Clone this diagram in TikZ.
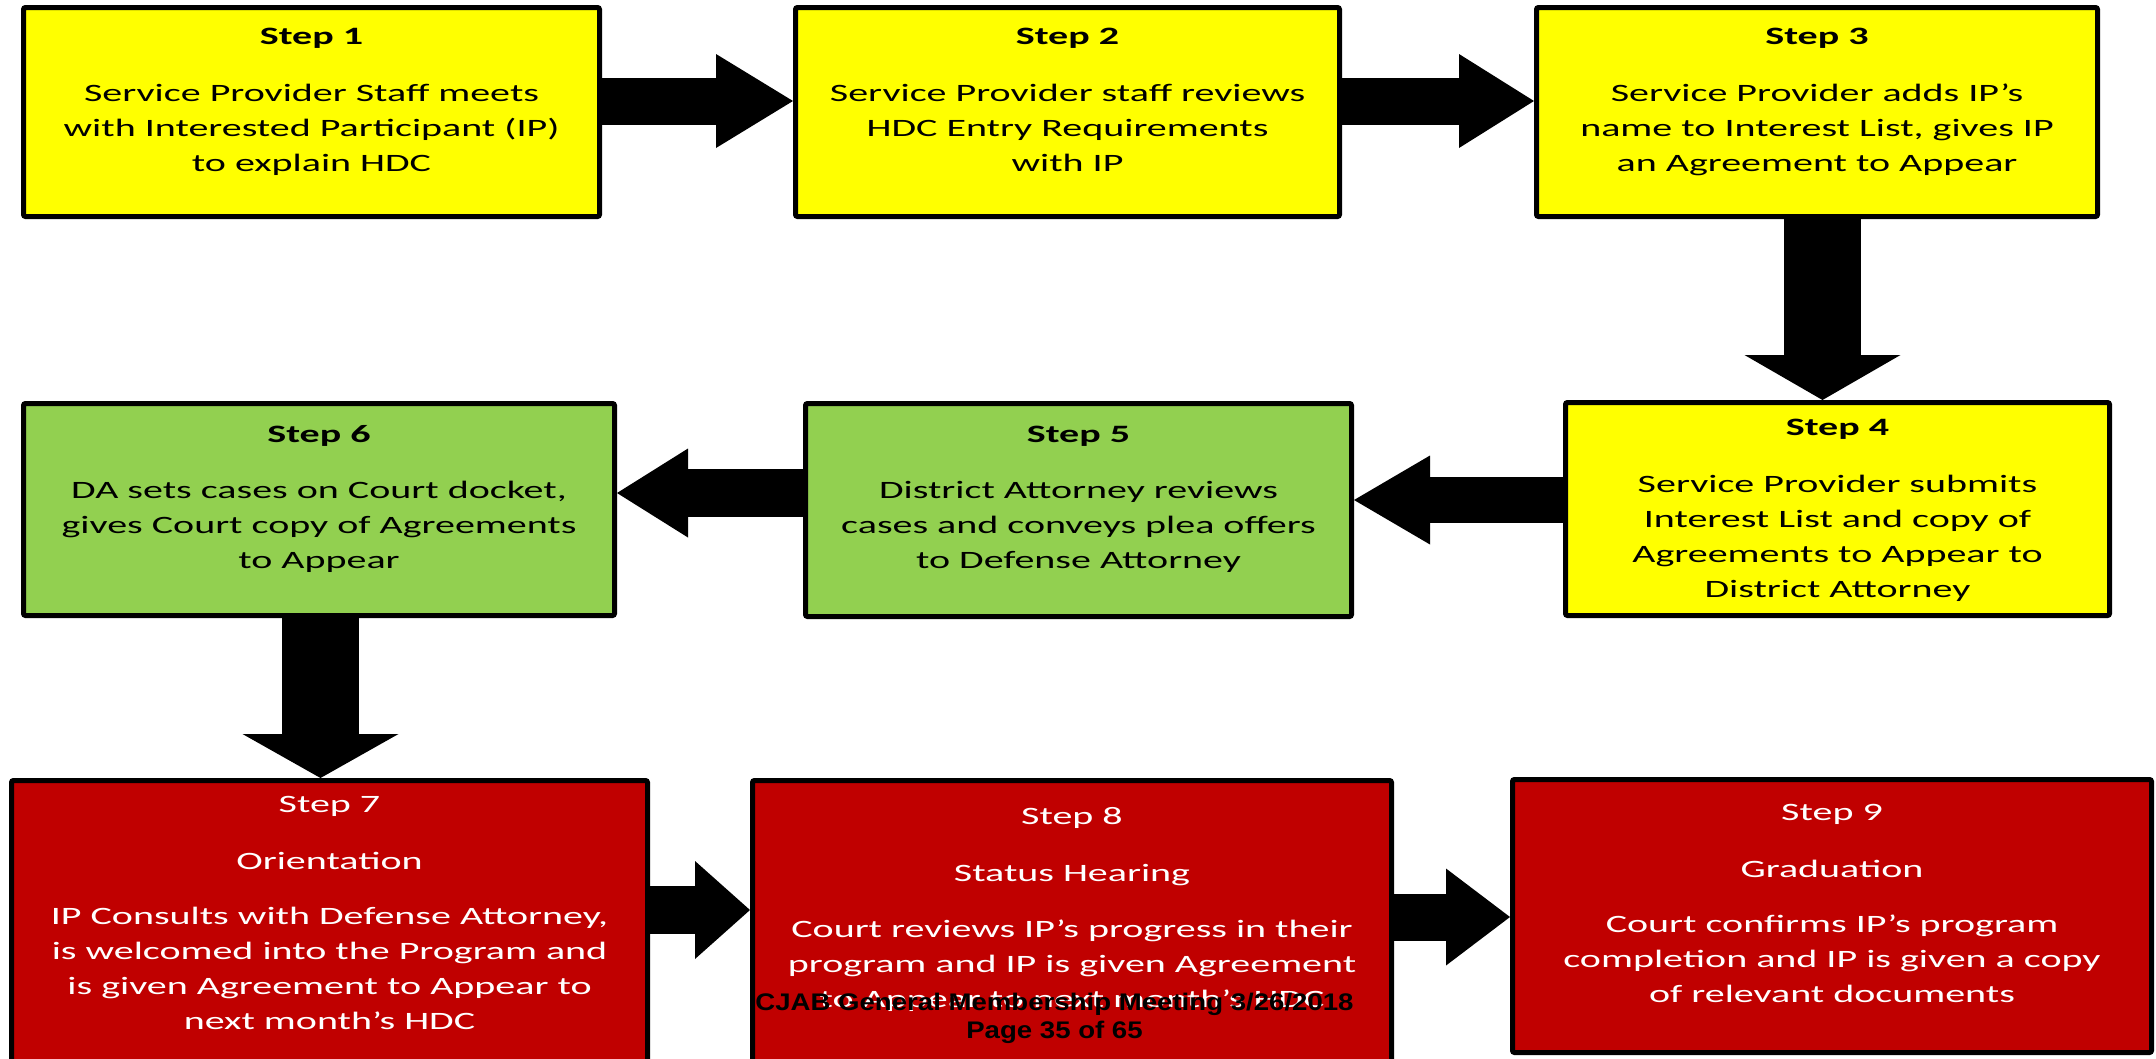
\documentclass[tikz,border=0pt]{standalone}
\usepackage{fontspec}
\setmainfont{Carlito}[FakeStretch=1.6]
\newfontfamily\footfont{Liberation Sans}[FakeStretch=1.15]
\usetikzlibrary{arrows.meta,positioning}
\definecolor{stepyellow}{HTML}{FFFF00}
\definecolor{stepgreen}{HTML}{92D050}
\definecolor{stepred}{HTML}{C00000}

\begin{document}
\begin{tikzpicture}[x=1pt,y=-1pt]
    \tikzset{stepbox/.style={draw,line width=5pt,rounded corners=2pt,inner sep=0pt},
      ybox/.style={stepbox,fill=stepyellow},
      gbox/.style={stepbox,fill=stepgreen},
      rbox/.style={stepbox,fill=stepred},
      txt/.style={align=center,inner sep=0pt,anchor=north,font=\fontsize{25}{35}\selectfont},
      foot/.style={inner sep=0pt,anchor=base,font=\footfont\bfseries\fontsize{24}{28}\selectfont},
      blk/.style n args={3}{line width=#1,-{Triangle[width=#2,length=#3,line width=0pt]}}}
    \path[use as bounding box,fill=white] (0,0) rectangle (2156,1058);
    % boxes
    \node[ybox,minimum width=576pt,minimum height=209pt] (s1) at (311.5,112) {};
    \node[ybox,minimum width=544pt,minimum height=209pt] (s2) at (1067.5,112) {};
    \node[ybox,minimum width=561pt,minimum height=209pt] (s3) at (1817,112) {};
    \node[ybox,minimum width=544pt,minimum height=213pt] (s4) at (1837.5,509) {};
    \node[gbox,minimum width=546pt,minimum height=213pt] (s5) at (1078.5,510) {};
    \node[gbox,minimum width=591pt,minimum height=212pt] (s6) at (319,509.5) {};
    \node[rbox,minimum width=636pt,minimum height=317pt] (s7) at (329.5,939) {};
    \node[rbox,minimum width=639pt,minimum height=317pt] (s8) at (1072,939) {};
    \node[rbox,minimum width=639pt,minimum height=273pt] (s9) at (1832,916) {};
    % texts
    \node[txt] (t1) at (311.5,27.5) {\textbf{Step 1}\\[22pt]Service Provider Staff meets\\with Interested Participant (IP)\\to explain HDC};
    \node[txt] (t2) at (1067.5,27.5) {\textbf{Step 2}\\[22pt]Service Provider staff reviews\\HDC Entry Requirements\\with IP};
    \node[txt] (t3) at (1817,27.5) {\textbf{Step 3}\\[22pt]Service Provider adds IP’s\\name to Interest List, gives IP\\an Agreement to Appear};
    \node[txt] (t4) at (1837.5,418.5) {\textbf{Step 4}\\[22pt]Service Provider submits\\Interest List and copy of\\Agreements to Appear to\\District Attorney};
    \node[txt] (t5) at (1078.5,425.5) {\textbf{Step 5}\\[21pt]District Attorney reviews\\cases and conveys plea offers\\to Defense Attorney};
    \node[txt] (t6) at (319,425.5) {\textbf{Step 6}\\[21pt]DA sets cases on Court docket,\\gives Court copy of Agreements\\to Appear};
    \node[txt,text=white] (t7) at (329.5,796.5) {Step 7\\[22pt]Orientation\\[20pt]IP Consults with Defense Attorney,\\is welcomed into the Program and\\is given Agreement to Appear to\\next month’s HDC};
    \node[txt,text=white] (t8) at (1072,807.5) {Step 8\\[22pt]Status Hearing\\[21pt]Court reviews IP’s progress in their\\program and IP is given Agreement\\to Appear to next month’s HDC};
    \node[txt,text=white] (t9) at (1832,804.5) {Step 9\\[22pt]Graduation\\[20pt]Court confirms IP’s program\\completion and IP is given a copy\\of relevant documents};
    % block arrows
    \draw[blk={47pt}{94pt}{77pt}] ([yshift=11pt]s1.east) -- ([yshift=11pt]s2.west);
    \draw[blk={47pt}{94pt}{75pt}] ([yshift=11pt]s2.east) -- ([yshift=11pt]s3.west);
    \draw[blk={77pt}{156pt}{45pt}] ([xshift=5.5pt]s3.south) -- ([xshift=5.5pt]s3.south |- s4.north);
    \draw[blk={46pt}{89pt}{76pt}] ([yshift=9pt]s4.west) -- ([yshift=9pt]s4.west -| s5.east);
    \draw[blk={48pt}{89pt}{71pt}] ([yshift=17pt]s5.west) -- ([yshift=17pt]s5.west -| s6.east);
    \draw[blk={77pt}{156pt}{44pt}] ([xshift=1.5pt]s6.south) -- ([xshift=1.5pt]s6.south |- s7.north);
    \draw[blk={48pt}{98pt}{55pt}] ([yshift=29pt]s7.east) -- ([yshift=29pt]s7.east -| s8.west);
    \draw[blk={47pt}{97pt}{64pt}] ([yshift=22pt]s8.east) -- ([yshift=22pt]s8.east -| s9.west);
    % footer
    \node[foot] (f1) at (1054.5,1010) {CJAB General Membership Meeting 3/26/2018};
    \node[foot] (f2) at (1054.5,1038) {Page 35 of 65};
\end{tikzpicture}
\end{document}
